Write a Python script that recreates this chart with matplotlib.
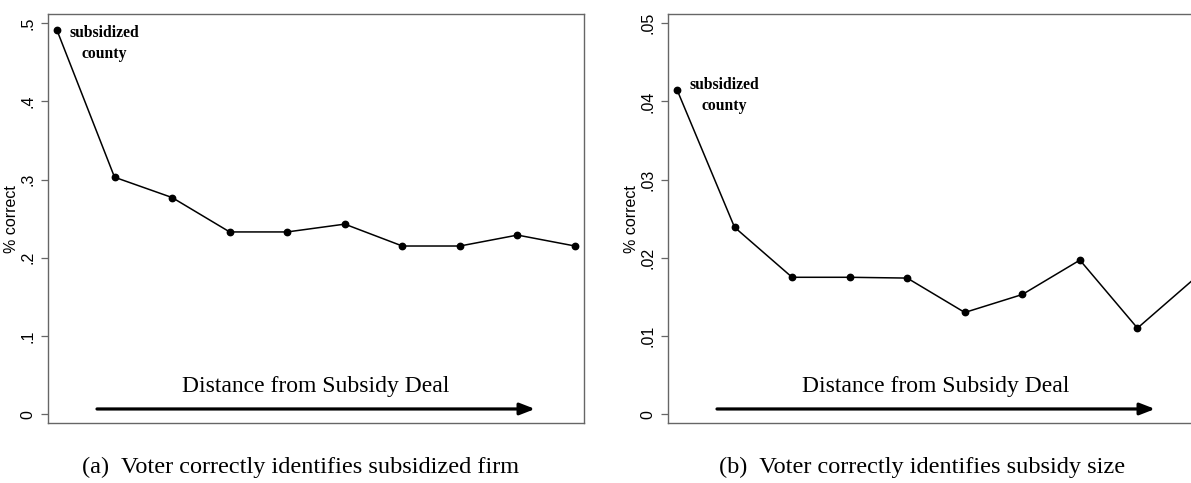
import numpy as np
import matplotlib
matplotlib.use("Agg")
import matplotlib.pyplot as plt

# distance bins (1 = subsidized county, then further away)
dist = np.arange(1, 11)

# panel (a): share who identify the subsidized firm
firm_correct = [0.491, 0.303, 0.277, 0.233, 0.233, 0.243, 0.215, 0.215, 0.229, 0.215]
firm_ticks = [0, 0.1, 0.2, 0.3, 0.4, 0.5]
firm_ticklabels = ["0", ".1", ".2", ".3", ".4", ".5"]

# panel (b): share who identify the subsidy size
size_correct = [0.0415, 0.0239, 0.0175, 0.0175, 0.0174, 0.0130, 0.0153, 0.0197, 0.0110, 0.0174]
size_ticks = [0, 0.01, 0.02, 0.03, 0.04, 0.05]
size_ticklabels = ["0", ".01", ".02", ".03", ".04", ".05"]

captions = ["(a)  Voter correctly identifies subsidized firm",
            "(b)  Voter correctly identifies subsidy size"]

W, H = 1191, 483
fig = plt.figure(figsize=(W / 100, H / 100), dpi=100)

sans = "Liberation Sans"
serif = "Liberation Serif"
spine_col = "#666666"


def panel(left_px, vals, ticks, ticklabels, ymax, label_off):
    ax = fig.add_axes([left_px / W, 1 - 423.3 / H, 536 / W, 409.3 / H])
    ax.plot(dist, vals, color="black", lw=1.1, marker="o", ms=4.6,
            clip_on=True)
    ax.set_xlim(0.844, 10.156)
    ax.set_ylim(-ymax * 0.0235, ymax * 1.0235)
    ax.set_xticks([])
    ax.set_yticks(ticks)
    ax.set_yticklabels(ticklabels, rotation=90, va="center",
                       family=sans, fontsize=11.5)
    ax.tick_params(axis="y", direction="out", length=5, width=0.9,
                   color=spine_col, pad=4)
    for s in ax.spines.values():
        s.set_color(spine_col)
        s.set_linewidth(1.0)
    ax.set_ylabel("% correct", family=sans, fontsize=11.5)
    ax.yaxis.set_label_coords(-0.054, 0.5)

    ax.annotate("subsidized\ncounty", xy=(dist[0], vals[0]),
                xytext=label_off, textcoords="offset pixels",
                ha="center", va="center", family=serif, fontweight="bold",
                fontsize=11.3, linespacing=1.45)

    ax.annotate("", xy=(0.9086, 0.035), xytext=(0.0914, 0.035),
                xycoords="axes fraction",
                arrowprops=dict(arrowstyle="-|>,head_length=0.9,head_width=0.35",
                                color="black", lw=2.3, shrinkA=0, shrinkB=0))
    ax.text(0.5, 0.091, "Distance from Subsidy Deal", transform=ax.transAxes,
            ha="center", va="center", family=serif, fontsize=17)
    return ax


panel(48, firm_correct, firm_ticks, firm_ticklabels, 0.5, (47, -13))
panel(668, size_correct, size_ticks, size_ticklabels, 0.05, (47, -6))

fig.text(301 / W, 1 - 467 / H, captions[0], ha="center", va="center",
         family=serif, fontsize=17.5)
fig.text(922.5 / W, 1 - 467 / H, captions[1], ha="center", va="center",
         family=serif, fontsize=17.5)

fig.savefig("out.png", dpi=100)
